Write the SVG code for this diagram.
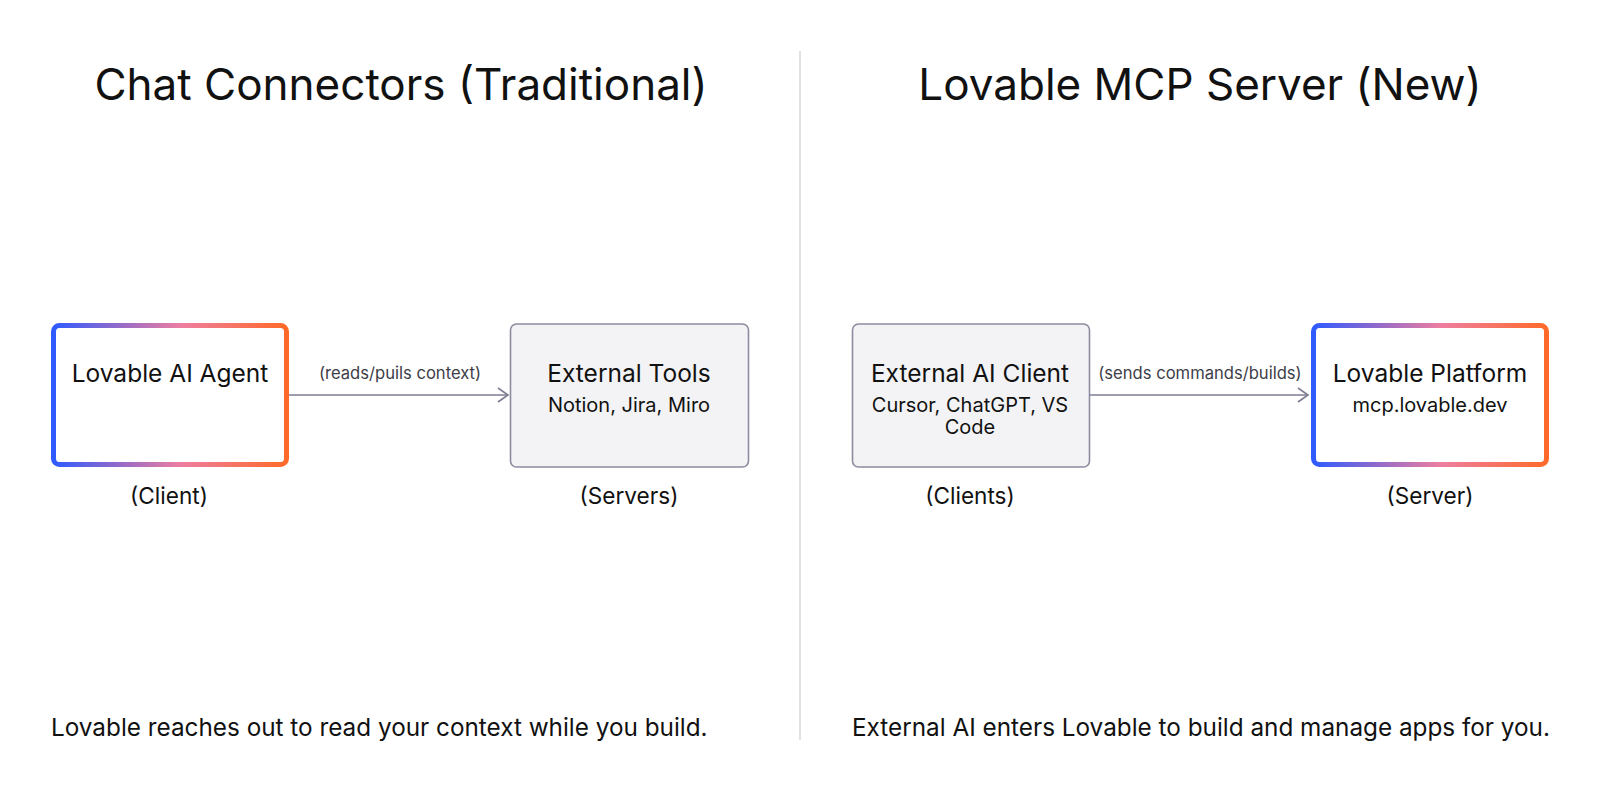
<svg xmlns="http://www.w3.org/2000/svg" width="1600" height="791" viewBox="0 0 1600 791">
  <defs>
    <linearGradient id="lov" x1="0" y1="0" x2="1" y2="0">
      <stop offset="0" stop-color="#2f5bff"/>
      <stop offset="0.3" stop-color="#9a6cc6"/>
      <stop offset="0.55" stop-color="#ee7ea0"/>
      <stop offset="1" stop-color="#ff6a2a"/>
    </linearGradient>
    <marker id="arr" markerWidth="14" markerHeight="16" refX="12" refY="8" orient="auto" markerUnits="userSpaceOnUse">
      <path d="M2,1 L12,8 L2,15" fill="none" stroke="#7d7d92" stroke-width="1.6"/>
    </marker>
    <style>
      text { font-family: Inter, "Liberation Sans", sans-serif; fill: #111; }
      .title { font-size: 44px; text-anchor: middle; }
      .name { font-size: 24.5px; text-anchor: middle; }
      .sub { font-size: 20px; text-anchor: middle; }
      .role { font-size: 22.6px; text-anchor: middle; }
      .lbl { font-size: 16.6px; text-anchor: middle; fill: #3e3e48; }
      .foot { font-size: 24.3px; }
      .lov { fill: #ffffff; stroke: url(#lov); stroke-width: 5; }
      .ext { fill: #f3f3f6; stroke: #8c8ca0; stroke-width: 1.6; }
      .edge { stroke: #7d7d92; stroke-width: 1.6; fill: none; }
    </style>
  </defs>
  <rect width="1600" height="791" fill="#ffffff"/>

  <line x1="800" y1="51" x2="800" y2="740" stroke="#cfcfcf" stroke-width="1.2"/>

  <text class="title" x="401" y="100">Chat Connectors (Traditional)</text>
  <text class="title" x="1200" y="100">Lovable MCP Server (New)</text>

  <g id="connectors">
    <line class="edge" x1="289" y1="395" x2="508" y2="395" marker-end="url(#arr)"/>
    <text class="lbl" x="400" y="379">(reads/puils context)</text>
    <line class="edge" x1="1089" y1="395" x2="1308" y2="395" marker-end="url(#arr)"/>
    <text class="lbl" x="1200" y="379">(sends commands/builds)</text>
  </g>

  <g id="lovable-ai-agent">
    <rect class="lov" x="53.5" y="325.5" width="233" height="139" rx="6"/>
    <text class="name" x="170" y="382">Lovable AI Agent</text>
    <text class="role" x="169" y="504">(Client)</text>
  </g>

  <g id="external-tools">
    <rect class="ext" x="510.5" y="324" width="238" height="143" rx="6"/>
    <text class="name" x="629" y="382">External Tools</text>
    <text class="sub" x="629" y="412">Notion, Jira, Miro</text>
    <text class="role" x="629" y="504">(Servers)</text>
  </g>

  <g id="external-ai-client">
    <rect class="ext" x="852.5" y="324" width="237" height="143" rx="6"/>
    <text class="name" x="970" y="382">External AI Client</text>
    <text class="sub" x="970" y="412">Cursor, ChatGPT, VS</text>
    <text class="sub" x="970" y="434">Code</text>
    <text class="role" x="970" y="504">(Clients)</text>
  </g>

  <g id="lovable-platform">
    <rect class="lov" x="1313.5" y="325.5" width="233" height="139" rx="6"/>
    <text class="name" x="1430" y="382">Lovable Platform</text>
    <text class="sub" x="1430" y="412">mcp.lovable.dev</text>
    <text class="role" x="1430" y="504">(Server)</text>
  </g>

  <text class="foot" x="51" y="736">Lovable reaches out to read your context while you build.</text>
  <text class="foot" x="852" y="736">External AI enters Lovable to build and manage apps for you.</text>
</svg>
